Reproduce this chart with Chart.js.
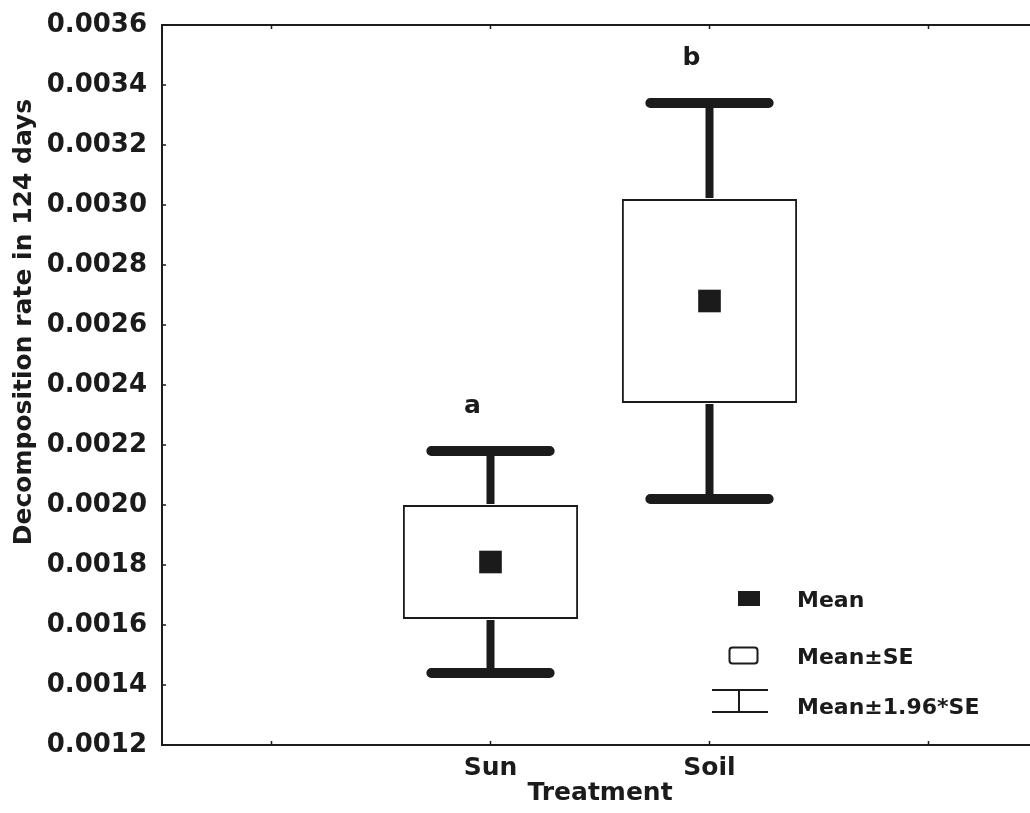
<!DOCTYPE html>
<html>
<head>
<meta charset="utf-8">
<script src="https://cdn.jsdelivr.net/npm/chart.js@4/dist/chart.umd.min.js"></script>
<style>
  html, body { margin: 0; padding: 0; background: #fff; overflow: hidden; }
  #wrap { width: 1030px; height: 813px; overflow: hidden; }
  canvas { display: block; }
</style>
</head>
<body>
<div id="wrap"><canvas id="c" width="1060" height="813"></canvas></div>
<script>
// ---- data ----
const categories = ['', 'Sun', 'Soil', ''];
const means      = [null, 0.00181, 0.00268, null];
const seLow      = [null, 0.00162, 0.00234, null];
const seHigh     = [null, 0.00200, 0.00302, null];
const ciLow      = [null, 0.00144, 0.00202, null];
const ciHigh     = [null, 0.00218, 0.00334, null];
const groupLetters = [null, 'a', 'b', null];
const yTicks = { min: 0.0012, max: 0.0036, step: 0.0002 };
const legendLabels = ['Mean', 'Mean±SE', 'Mean±1.96*SE'];
const yTitle = 'Decomposition rate in 124 days';
const xTitle = 'Treatment';

const INK = '#1b1b1b';
const FONT = '"DejaVu Sans", "Liberation Sans", Arial, sans-serif';

const boxes = seLow.map((lo, i) => lo === null ? null : [lo, seHigh[i]]);

const decorPlugin = {
  id: 'decor',
  afterDatasetsDraw(chart) {
    const ctx = chart.ctx;
    const xs = chart.scales.x, ys = chart.scales.y;
    const catW = xs.getPixelForValue(1) - xs.getPixelForValue(0);
    ctx.save();
    ctx.strokeStyle = INK;
    for (let i = 0; i < categories.length; i++) {
      if (means[i] === null) continue;
      const x = xs.getPixelForValue(i);
      const yHi = ys.getPixelForValue(ciHigh[i]);
      const yLo = ys.getPixelForValue(ciLow[i]);
      const yBoxHi = ys.getPixelForValue(seHigh[i]);
      const yBoxLo = ys.getPixelForValue(seLow[i]);
      ctx.lineWidth = 8;
      ctx.lineCap = 'butt';
      ctx.beginPath();
      ctx.moveTo(x, yHi); ctx.lineTo(x, yBoxHi - 1);
      ctx.moveTo(x, yBoxLo + 1); ctx.lineTo(x, yLo);
      ctx.stroke();
      ctx.lineWidth = 10;
      ctx.lineCap = 'round';
      const hw = catW * 0.27;
      ctx.beginPath();
      ctx.moveTo(x - hw, yHi); ctx.lineTo(x + hw, yHi);
      ctx.moveTo(x - hw, yLo); ctx.lineTo(x + hw, yLo);
      ctx.stroke();
      ctx.fillStyle = INK;
      ctx.font = 'bold 25px ' + FONT;
      ctx.textAlign = 'center';
      ctx.textBaseline = 'alphabetic';
      ctx.fillText(groupLetters[i], x - 18, yHi - 38);
    }
    ctx.restore();
  },
  afterDraw(chart) {
    const ctx = chart.ctx;
    const a = chart.chartArea;
    const xs = chart.scales.x, ys = chart.scales.y;
    ctx.save();
    ctx.strokeStyle = INK;
    ctx.lineWidth = 2;
    ctx.strokeRect(a.left, a.top, a.right - a.left, a.bottom - a.top);
    ctx.lineWidth = 1.5;
    ctx.beginPath();
    ys.ticks.forEach((t, i) => {
      const y = ys.getPixelForTick(i);
      ctx.moveTo(a.left, y); ctx.lineTo(a.left + 4, y);
    });
    xs.ticks.forEach((t, i) => {
      const x = xs.getPixelForTick(i);
      ctx.moveTo(x, a.bottom); ctx.lineTo(x, a.bottom - 4);
      ctx.moveTo(x, a.top); ctx.lineTo(x, a.top + 4);
    });
    ctx.stroke();
    ctx.fillStyle = INK;
    ctx.font = 'bold 25px ' + FONT;
    ctx.textAlign = 'center';
    ctx.textBaseline = 'middle';
    ctx.translate(24, 322);
    ctx.rotate(-Math.PI / 2);
    ctx.fillText(yTitle, 0, 0);
    ctx.restore();

    // legend
    ctx.save();
    ctx.fillStyle = INK;
    ctx.strokeStyle = INK;
    ctx.fillRect(738, 591, 22, 15);
    ctx.lineWidth = 2;
    ctx.beginPath();
    ctx.roundRect(729.5, 647.5, 28, 16, 3);
    ctx.stroke();
    ctx.beginPath();
    ctx.moveTo(712, 690); ctx.lineTo(768, 690);
    ctx.moveTo(712, 712); ctx.lineTo(768, 712);
    ctx.moveTo(739, 690); ctx.lineTo(739, 712);
    ctx.stroke();
    ctx.font = 'bold 22px ' + FONT;
    ctx.textAlign = 'left';
    ctx.textBaseline = 'middle';
    ctx.fillText(legendLabels[0], 797, 601);
    ctx.fillText(legendLabels[1], 797, 658);
    ctx.fillText(legendLabels[2], 797, 708);
    ctx.restore();
  }
};

new Chart(document.getElementById('c'), {
  type: 'bar',
  data: {
    labels: categories,
    datasets: [
      {
        type: 'line',
        label: 'Mean',
        data: means,
        showLine: false,
        pointStyle: 'rect',
        pointRadius: 16,
        pointBackgroundColor: INK,
        pointBorderColor: INK,
        pointBorderWidth: 0,
        order: 0
      },
      {
        type: 'bar',
        label: 'Mean±SE',
        data: boxes,
        backgroundColor: '#ffffff',
        borderColor: INK,
        borderWidth: 2,
        borderSkipped: false,
        barPercentage: 0.80,
        categoryPercentage: 1.0,
        order: 1
      }
    ]
  },
  options: {
    responsive: false,
    animation: false,
    layout: { padding: { left: 0, right: 22, top: 25, bottom: 0 } },
    plugins: { legend: { display: false }, tooltip: { enabled: false } },
    scales: {
      x: {
        offset: true,
        grid: { display: false, offset: false },
        border: { display: false },
        ticks: {
          color: INK,
          font: { family: FONT, size: 25, weight: 'bold', lineHeight: 1.0 },
          padding: 3,
          maxRotation: 0,
          autoSkip: false
        },
        title: {
          display: true,
          text: xTitle,
          color: INK,
          font: { family: FONT, size: 25, weight: 'bold' },
          padding: { top: 0, bottom: 5 }
        },
        afterFit(s) { s.height = 68; }
      },
      y: {
        min: yTicks.min,
        max: yTicks.max,
        grid: { display: false },
        border: { display: false },
        ticks: {
          stepSize: yTicks.step,
          color: INK,
          font: { family: FONT, size: 26, weight: 'bold' },
          padding: 7,
          callback: v => Number(v).toFixed(4)
        },
        afterFit(s) { s.width = 162; }
      }
    }
  },
  plugins: [decorPlugin]
});
</script>
</body>
</html>
